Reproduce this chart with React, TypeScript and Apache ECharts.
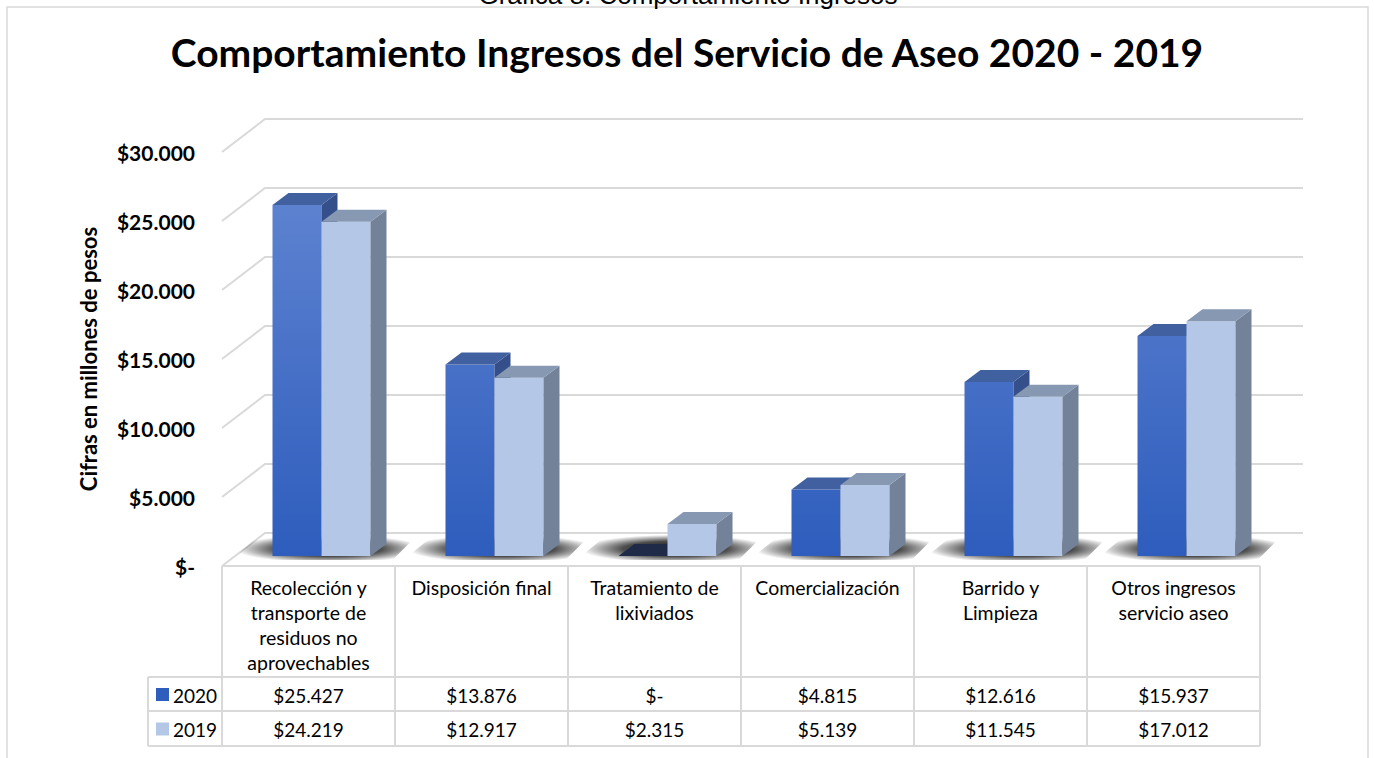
import React, { useEffect, useRef } from "react";
import * as echarts from "echarts";

const categories = [
  "Recolección y\ntransporte de\nresiduos no\naprovechables",
  "Disposición final",
  "Tratamiento de\nlixiviados",
  "Comercialización",
  "Barrido y\nLimpieza",
  "Otros ingresos\nservicio aseo",
];
const seriesNames = ["2020", "2019"];
const seriesColors = ["#4472C4", "#B4C7E7"];
const values2020 = [25427, 13876, 0, 4815, 12616, 15937];
const values2019 = [24219, 12917, 2315, 5139, 11545, 17012];
const yTicks = [0, 5000, 10000, 15000, 20000, 25000, 30000];
const chartTitle = "Comportamiento Ingresos del Servicio de Aseo 2020 - 2019";
const captionText = "Gráfica 8. Comportamiento Ingresos";
const yAxisTitle = "Cifras en millones de pesos";

const FONT = "Lato, 'Open Sans', sans-serif";
const GRID_L = 222;
const GRID_T = 152;
const GRID_W = 1038;
const GRID_H = 414;
const BAND = GRID_W / categories.length;
const WALL_DX = 43;
const WALL_DY = 33;
const LIFT = 10;
const SHIFT = 13;
const BAR_W = 49;
const BDX = 16;
const BDY = 12;

const ROW_HEAD_B = 677;
const ROW1_B = 711;
const ROW2_B = 746;
const LEG_L = 148;
const LINE_C = "#d9d9d9";

const fmt = (v: number) =>
  v === 0 ? "$-" : "$" + String(v).replace(/\B(?=(\d{3})+(?!\d))/g, ".");

const front2020 = new echarts.graphic.LinearGradient(
  0, GRID_T - 10, 0, GRID_T + GRID_H - LIFT,
  [
    { offset: 0, color: "#6588D3" },
    { offset: 1, color: "#2E5DBD" },
  ],
  true
);

const barRender = (s: number, front: any, top: any, side: any, zeroTop: string) =>
  (params: any, api: any) => {
    const i = api.value(0);
    const v = api.value(1);
    const p0 = api.coord([i, 0]);
    const p1 = api.coord([i, v]);
    const base = p0[1] - LIFT;
    const topY = p1[1] - LIFT;
    const gc = p0[0] + SHIFT;
    const xL = s === 0 ? gc - BAR_W : gc;
    const xR = xL + BAR_W;
    const children: any[] = [];
    if (v > 0) {
      children.push({
        type: "rect",
        shape: { x: xL, y: topY, width: BAR_W, height: base - topY },
        style: { fill: front },
      });
      children.push({
        type: "polygon",
        shape: { points: [[xR, topY], [xR + BDX, topY - BDY], [xR + BDX, base - BDY], [xR, base]] },
        style: { fill: side },
      });
    }
    children.push({
      type: "polygon",
      shape: { points: [[xL, topY], [xR, topY], [xR + BDX, topY - BDY], [xL + BDX, topY - BDY]] },
      style: { fill: v > 0 ? top : zeroTop },
    });
    return { type: "group", children };
  };

const shadowFill = new echarts.graphic.RadialGradient(0.52, 0.6, 0.5, [
  { offset: 0, color: "rgba(0,0,0,0.95)" },
  { offset: 0.55, color: "rgba(0,0,0,0.7)" },
  { offset: 1, color: "rgba(0,0,0,0)" },
]);

export default function App() {
  const ref = useRef<HTMLDivElement>(null);
  useEffect(() => {
    if (!ref.current) return;
    const chart = echarts.init(ref.current, undefined, { renderer: "svg" });

    const graphics: any[] = [];
    graphics.push({
      type: "rect",
      z: -10,
      shape: { x: 7, y: 7, width: 1361, height: 800 },
      style: { fill: "none", stroke: LINE_C, lineWidth: 1.5 },
    });
    graphics.push({
      type: "text",
      x: 688,
      y: 8,
      style: {
        text: captionText,
        fontSize: 26,
        fontFamily: "'Liberation Sans', Arial, sans-serif",
        fill: "#000",
        align: "center",
        verticalAlign: "bottom",
      },
    });
    const tableR = GRID_L + GRID_W;
    const hl = (x1: number, x2: number, y: number) => ({
      type: "line",
      shape: { x1, y1: y, x2, y2: y },
      style: { stroke: LINE_C, lineWidth: 2 },
    });
    const vl = (x: number, y1: number, y2: number) => ({
      type: "line",
      shape: { x1: x, y1, x2: x, y2 },
      style: { stroke: LINE_C, lineWidth: 2 },
    });
    graphics.push(hl(GRID_L, tableR, GRID_T + GRID_H));
    graphics.push(hl(LEG_L, tableR, ROW_HEAD_B));
    graphics.push(hl(LEG_L, tableR, ROW1_B));
    graphics.push(hl(LEG_L, tableR, ROW2_B));
    for (let k = 0; k <= categories.length; k++) {
      graphics.push(vl(GRID_L + k * BAND, GRID_T + GRID_H, ROW2_B));
    }
    graphics.push(vl(LEG_L, ROW_HEAD_B, ROW2_B));
    const rows = [values2020, values2019];
    rows.forEach((vals, r) => {
      const yc = r === 0 ? (ROW_HEAD_B + ROW1_B) / 2 + 1 : (ROW1_B + ROW2_B) / 2 + 1;
      // legend key for the row
      graphics.push({
        type: "rect",
        shape: { x: 156, y: yc - 7, width: 13, height: 13 },
        style: { fill: r === 0 ? front2020 : seriesColors[r] },
      });
      graphics.push({
        type: "text",
        x: 173,
        y: yc,
        style: {
          text: seriesNames[r],
          fontSize: 19,
          fontFamily: FONT,
          fill: "#000",
          align: "left",
          verticalAlign: "middle",
        },
      });
      vals.forEach((v, i) => {
        graphics.push({
          type: "text",
          x: GRID_L + BAND * (i + 0.5),
          y: yc,
          style: {
            text: fmt(v),
            fontSize: 19,
            fontFamily: FONT,
            fill: "#000",
            align: "center",
            verticalAlign: "middle",
          },
        });
      });
    });

    const option: any = {
      animation: false,
      backgroundColor: "#ffffff",
      title: {
        text: chartTitle,
        left: "center",
        top: 32,
        padding: 0,
        textStyle: { fontSize: 39, fontWeight: "bold", color: "#000", fontFamily: FONT },
      },
      grid: { left: GRID_L, top: GRID_T, width: GRID_W, height: GRID_H },
      xAxis: {
        type: "category",
        data: categories,
        axisLine: { show: false },
        axisTick: { show: false },
        splitLine: { show: false },
        axisLabel: {
          interval: 0,
          margin: 9,
          fontSize: 19.5,
          lineHeight: 25,
          color: "#000",
          fontFamily: FONT,
          verticalAlign: "top",
        },
      },
      yAxis: {
        type: "value",
        min: 0,
        max: 30000,
        interval: 5000,
        name: yAxisTitle,
        nameLocation: "middle",
        nameRotate: 90,
        nameGap: 123,
        nameTextStyle: { fontSize: 22, fontWeight: "bold", color: "#000", fontFamily: FONT },
        axisLine: { show: false },
        axisTick: { show: false },
        splitLine: { show: false },
        axisLabel: {
          margin: 27,
          fontSize: 21,
          fontWeight: "bold",
          color: "#000",
          fontFamily: FONT,
          formatter: (v: number) => fmt(v),
        },
      },
      graphic: graphics,
      series: [
        {
          type: "custom",
          name: "walls",
          z: 1,
          silent: true,
          data: yTicks.map((v) => [0, v]),
          renderItem: (params: any, api: any) => {
            const y = api.coord([0, api.value(1)])[1];
            const x0 = params.coordSys.x;
            const w = params.coordSys.width;
            return {
              type: "polyline",
              shape: { points: [[x0, y], [x0 + WALL_DX, y - WALL_DY], [x0 + w + WALL_DX, y - WALL_DY]] },
              style: { stroke: LINE_C, lineWidth: 2, fill: "none" },
            };
          },
        },
        {
          type: "custom",
          name: "shadow",
          z: 2,
          silent: true,
          data: categories.map((_, i) => [i, 0]),
          renderItem: (params: any, api: any) => {
            const p0 = api.coord([api.value(0), 0]);
            const base = p0[1] - LIFT;
            const gc = p0[0] + SHIFT;
            return {
              type: "polygon",
              shape: {
                points: [
                  [gc - BAR_W - 42, base + 4],
                  [gc + BAR_W + 22, base + 4],
                  [gc + BAR_W + BDX + 34, base - 24],
                  [gc - BAR_W - 8, base - 24],
                ],
              },
              style: { fill: shadowFill },
            };
          },
        },
        {
          type: "custom",
          name: seriesNames[0],
          z: 3,
          itemStyle: { color: seriesColors[0] },
          data: values2020.map((v, i) => [i, v]),
          renderItem: barRender(0, front2020, "#41609F", "#344F8A", "#1E2A47"),
        },
        {
          type: "custom",
          name: seriesNames[1],
          z: 3,
          itemStyle: { color: seriesColors[1] },
          data: values2019.map((v, i) => [i, v]),
          renderItem: barRender(1, seriesColors[1], "#8698B2", "#738299", "#8698B2"),
        },
      ],
    };
    chart.setOption(option);
    return () => chart.dispose();
  }, []);
  return (
    <div
      ref={ref}
      style={{ position: "absolute", left: 0, top: 0, width: 1374, height: 758 }}
    />
  );
}
